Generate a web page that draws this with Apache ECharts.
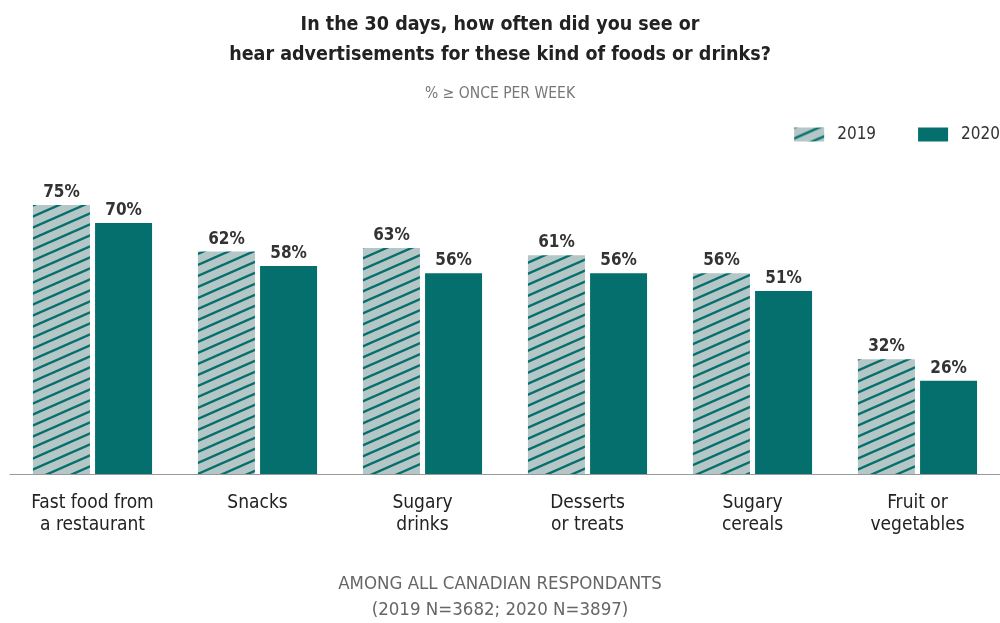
<!DOCTYPE html>
<html>
<head>
<meta charset="utf-8">
<script src="https://cdn.jsdelivr.net/npm/echarts@6/dist/echarts.min.js"></script>
<style>
  html, body { margin: 0; padding: 0; background: #fff; }
  #chart { width: 1000px; height: 623px; }
</style>
</head>
<body>
<div id="chart"></div>
<script>
//数据
var categories = ['Fast food from\na restaurant', 'Snacks', 'Sugary\ndrinks', 'Desserts\nor treats', 'Sugary\ncereals', 'Fruit or\nvegetables'];
var years = ['2019', '2020'];
var values2019 = [75, 62, 63, 61, 56, 32];
var values2020 = [70, 58, 56, 56, 51, 26];

var FONT = '"Liberation Sans Narrow", "DejaVu Sans Condensed", "Liberation Sans", sans-serif';
var TEAL = '#046f6c';

//斜线填充
function stripes() {
    var w = 25, h = 11;
    var c = document.createElement('canvas');
    c.width = w;
    c.height = h;
    var g = c.getContext('2d');
    g.fillStyle = '#b4c6c6';
    g.fillRect(0, 0, w, h);
    g.strokeStyle = TEAL;
    g.lineWidth = 2.4;
    g.beginPath();
    //每块一条斜线, 上下各补一条
    for (var k = -1; k <= 1; k++) {
        g.moveTo(-w, 2 * h + k * h);
        g.lineTo(2 * w, k * h - h);
    }
    g.stroke();
    return {image: c, repeat: 'repeat'};
}

var chart = echarts.init(document.getElementById('chart'));

var label = {
    show: true,
    position: 'top',
    distance: 4,
    formatter: '{c}%',
    fontFamily: FONT,
    fontSize: 17,
    fontWeight: 'bold',
    color: '#333'
};

chart.setOption({
    animation: false,
    title: [{
        text: 'In the 30 days, how often did you see or\nhear advertisements for these kind of foods or drinks?',
        left: 'center',
        top: 5,
        textStyle: {fontFamily: FONT, fontSize: 19.5, fontWeight: 'bold', color: '#222', lineHeight: 30}
    }, {
        text: '% \u2265 ONCE PER WEEK',
        left: 'center',
        top: 81,
        textStyle: {fontFamily: FONT, fontSize: 15.5, fontWeight: 'normal', color: '#777'}
    }, {
        text: 'AMONG ALL CANADIAN RESPONDANTS\n(2019 N=3682; 2020 N=3897)',
        left: 'center',
        top: 566,
        textStyle: {fontFamily: FONT, fontSize: 18.5, fontWeight: 'normal', color: '#666', lineHeight: 26}
    }],
    legend: {
        data: years,
        right: 0,
        top: 126,
        padding: 0,
        itemWidth: 30,
        itemHeight: 14,
        itemGap: 42,
        icon: 'rect',
        textStyle: {fontFamily: FONT, fontSize: 17, color: '#333', padding: [0, 0, 0, 8]}
    },
    grid: {left: 10, right: 0, top: 115.3, bottom: 149},
    xAxis: {
        type: 'category',
        data: categories,
        axisLine: {lineStyle: {color: '#999', width: 1}},
        axisTick: {show: false},
        axisLabel: {
            fontFamily: FONT,
            fontSize: 19,
            color: '#222',
            lineHeight: 22,
            margin: 18,
            interval: 0
        }
    },
    yAxis: {
        type: 'value',
        min: 0,
        max: 100,
        show: false
    },
    series: [{
        name: years[0],
        type: 'bar',
        data: values2019,
        barWidth: 57,
        barGap: '9%',
        itemStyle: {color: stripes()},
        label: label
    }, {
        name: years[1],
        type: 'bar',
        data: values2020,
        barWidth: 57,
        itemStyle: {color: TEAL},
        label: label
    }]
});
</script>
</body>
</html>
